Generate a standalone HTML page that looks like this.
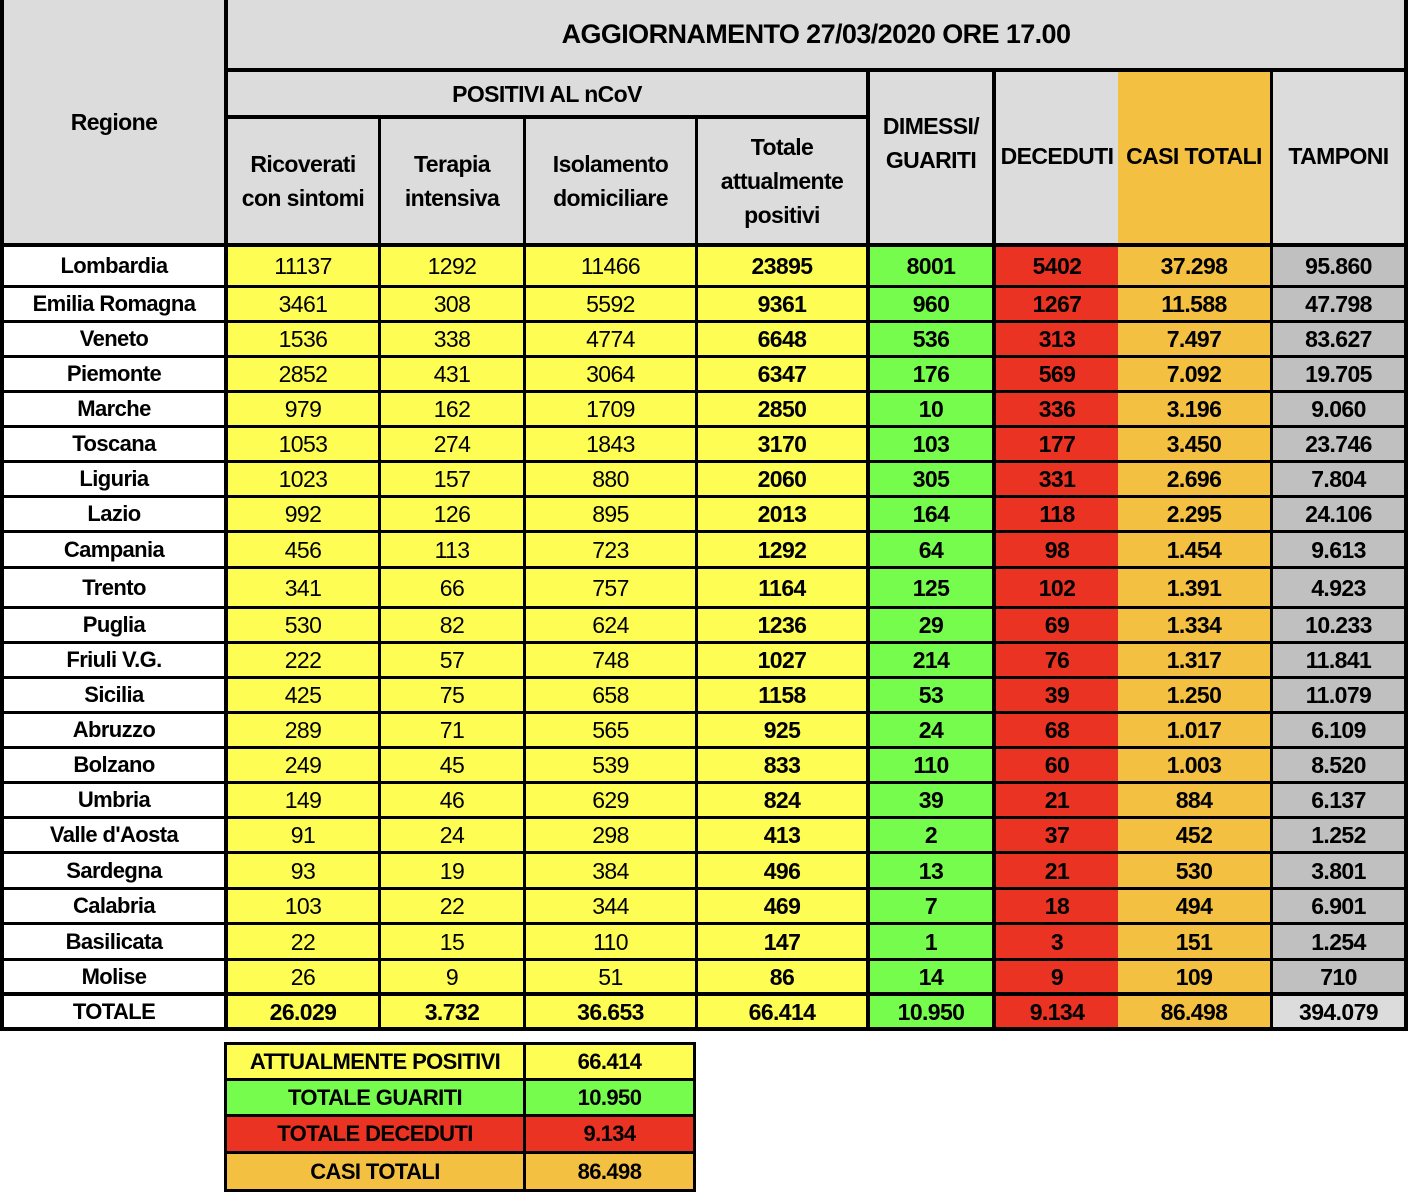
<!DOCTYPE html>
<html><head><meta charset="utf-8"><style>
body{margin:0;width:1408px;height:1198px;background:#fff;position:relative;overflow:hidden;font-family:"Liberation Sans",sans-serif;color:#000}
.bg{position:absolute;left:0;top:0;width:1408px;height:1031px;background:#000}
.c{position:absolute;display:flex;align-items:center;justify-content:center;text-align:center;font-size:23px;letter-spacing:-0.6px;line-height:34px}
.h{background:#dcdcdc;font-weight:bold;font-size:23px}
.r{position:absolute;left:0;width:1408px}
.r .c{top:0;bottom:0}
.c0{left:4px;width:220px;background:#fff;font-weight:bold;font-size:22px}
.c1{left:228px;width:150px;background:#fdfd54}
.c2{left:381px;width:142px;background:#fdfd54}
.c3{left:526px;width:169px;background:#fdfd54}
.c4{left:698px;width:168px;background:#fdfd54;font-weight:bold}
.c5{left:870px;width:122px;background:#76fc4c;font-weight:bold}
.c6{left:996px;width:122px;background:#ea3323;font-weight:bold}
.c7{left:1118px;width:152px;background:#f4c042;font-weight:bold}
.c8{left:1273px;width:131px;background:#c0c0c0;font-weight:bold}
.tot .c{font-weight:bold}
.b2{position:absolute;left:224px;top:1042px;width:472px;height:150px;background:#000}
.b2 .c{font-weight:bold;font-size:22px}
</style></head><body>
<div class="bg"></div>
<div class="c h" style="left:4px;top:0;width:220px;height:243px">Regione</div>
<div class="c h" style="left:228px;top:0;width:1176px;height:68px;font-size:27px">AGGIORNAMENTO 27/03/2020 ORE 17.00</div>
<div class="c h" style="left:228px;top:72px;width:638px;height:43px">POSITIVI AL nCoV</div>
<div class="c h" style="left:228px;top:119px;width:150px;height:124px">Ricoverati<br>con sintomi</div>
<div class="c h" style="left:381px;top:119px;width:142px;height:124px">Terapia<br>intensiva</div>
<div class="c h" style="left:526px;top:119px;width:169px;height:124px">Isolamento<br>domiciliare</div>
<div class="c h" style="left:698px;top:119px;width:168px;height:124px">Totale<br>attualmente<br>positivi</div>
<div class="c h" style="left:870px;top:72px;width:122px;height:171px;padding-bottom:30px;box-sizing:border-box">DIMESSI/<br>GUARITI</div>
<div class="c h" style="left:996px;top:72px;width:122px;height:171px;padding-bottom:3px;box-sizing:border-box">DECEDUTI</div>
<div class="c h" style="left:1118px;top:72px;width:152px;height:171px;background:#f4c042;padding-bottom:3px;box-sizing:border-box">CASI TOTALI</div>
<div class="c h" style="left:1273px;top:72px;width:131px;height:171px;padding-bottom:3px;box-sizing:border-box">TAMPONI</div>

<div class="r" style="top:247px;height:38px"><div class="c c0">Lombardia</div><div class="c c1">11137</div><div class="c c2">1292</div><div class="c c3">11466</div><div class="c c4">23895</div><div class="c c5">8001</div><div class="c c6">5402</div><div class="c c7">37.298</div><div class="c c8">95.860</div></div>
<div class="r" style="top:288px;height:32px"><div class="c c0">Emilia Romagna</div><div class="c c1">3461</div><div class="c c2">308</div><div class="c c3">5592</div><div class="c c4">9361</div><div class="c c5">960</div><div class="c c6">1267</div><div class="c c7">11.588</div><div class="c c8">47.798</div></div>
<div class="r" style="top:323px;height:32px"><div class="c c0">Veneto</div><div class="c c1">1536</div><div class="c c2">338</div><div class="c c3">4774</div><div class="c c4">6648</div><div class="c c5">536</div><div class="c c6">313</div><div class="c c7">7.497</div><div class="c c8">83.627</div></div>
<div class="r" style="top:358px;height:32px"><div class="c c0">Piemonte</div><div class="c c1">2852</div><div class="c c2">431</div><div class="c c3">3064</div><div class="c c4">6347</div><div class="c c5">176</div><div class="c c6">569</div><div class="c c7">7.092</div><div class="c c8">19.705</div></div>
<div class="r" style="top:393px;height:32px"><div class="c c0">Marche</div><div class="c c1">979</div><div class="c c2">162</div><div class="c c3">1709</div><div class="c c4">2850</div><div class="c c5">10</div><div class="c c6">336</div><div class="c c7">3.196</div><div class="c c8">9.060</div></div>
<div class="r" style="top:428px;height:32px"><div class="c c0">Toscana</div><div class="c c1">1053</div><div class="c c2">274</div><div class="c c3">1843</div><div class="c c4">3170</div><div class="c c5">103</div><div class="c c6">177</div><div class="c c7">3.450</div><div class="c c8">23.746</div></div>
<div class="r" style="top:463px;height:32px"><div class="c c0">Liguria</div><div class="c c1">1023</div><div class="c c2">157</div><div class="c c3">880</div><div class="c c4">2060</div><div class="c c5">305</div><div class="c c6">331</div><div class="c c7">2.696</div><div class="c c8">7.804</div></div>
<div class="r" style="top:498px;height:32px"><div class="c c0">Lazio</div><div class="c c1">992</div><div class="c c2">126</div><div class="c c3">895</div><div class="c c4">2013</div><div class="c c5">164</div><div class="c c6">118</div><div class="c c7">2.295</div><div class="c c8">24.106</div></div>
<div class="r" style="top:533px;height:33px"><div class="c c0">Campania</div><div class="c c1">456</div><div class="c c2">113</div><div class="c c3">723</div><div class="c c4">1292</div><div class="c c5">64</div><div class="c c6">98</div><div class="c c7">1.454</div><div class="c c8">9.613</div></div>
<div class="r" style="top:569px;height:37px"><div class="c c0">Trento</div><div class="c c1">341</div><div class="c c2">66</div><div class="c c3">757</div><div class="c c4">1164</div><div class="c c5">125</div><div class="c c6">102</div><div class="c c7">1.391</div><div class="c c8">4.923</div></div>
<div class="r" style="top:609px;height:32px"><div class="c c0">Puglia</div><div class="c c1">530</div><div class="c c2">82</div><div class="c c3">624</div><div class="c c4">1236</div><div class="c c5">29</div><div class="c c6">69</div><div class="c c7">1.334</div><div class="c c8">10.233</div></div>
<div class="r" style="top:644px;height:32px"><div class="c c0">Friuli V.G.</div><div class="c c1">222</div><div class="c c2">57</div><div class="c c3">748</div><div class="c c4">1027</div><div class="c c5">214</div><div class="c c6">76</div><div class="c c7">1.317</div><div class="c c8">11.841</div></div>
<div class="r" style="top:679px;height:32px"><div class="c c0">Sicilia</div><div class="c c1">425</div><div class="c c2">75</div><div class="c c3">658</div><div class="c c4">1158</div><div class="c c5">53</div><div class="c c6">39</div><div class="c c7">1.250</div><div class="c c8">11.079</div></div>
<div class="r" style="top:714px;height:32px"><div class="c c0">Abruzzo</div><div class="c c1">289</div><div class="c c2">71</div><div class="c c3">565</div><div class="c c4">925</div><div class="c c5">24</div><div class="c c6">68</div><div class="c c7">1.017</div><div class="c c8">6.109</div></div>
<div class="r" style="top:749px;height:32px"><div class="c c0">Bolzano</div><div class="c c1">249</div><div class="c c2">45</div><div class="c c3">539</div><div class="c c4">833</div><div class="c c5">110</div><div class="c c6">60</div><div class="c c7">1.003</div><div class="c c8">8.520</div></div>
<div class="r" style="top:784px;height:32px"><div class="c c0">Umbria</div><div class="c c1">149</div><div class="c c2">46</div><div class="c c3">629</div><div class="c c4">824</div><div class="c c5">39</div><div class="c c6">21</div><div class="c c7">884</div><div class="c c8">6.137</div></div>
<div class="r" style="top:819px;height:32px"><div class="c c0">Valle d'Aosta</div><div class="c c1">91</div><div class="c c2">24</div><div class="c c3">298</div><div class="c c4">413</div><div class="c c5">2</div><div class="c c6">37</div><div class="c c7">452</div><div class="c c8">1.252</div></div>
<div class="r" style="top:854px;height:33px"><div class="c c0">Sardegna</div><div class="c c1">93</div><div class="c c2">19</div><div class="c c3">384</div><div class="c c4">496</div><div class="c c5">13</div><div class="c c6">21</div><div class="c c7">530</div><div class="c c8">3.801</div></div>
<div class="r" style="top:890px;height:32px"><div class="c c0">Calabria</div><div class="c c1">103</div><div class="c c2">22</div><div class="c c3">344</div><div class="c c4">469</div><div class="c c5">7</div><div class="c c6">18</div><div class="c c7">494</div><div class="c c8">6.901</div></div>
<div class="r" style="top:925px;height:33px"><div class="c c0">Basilicata</div><div class="c c1">22</div><div class="c c2">15</div><div class="c c3">110</div><div class="c c4">147</div><div class="c c5">1</div><div class="c c6">3</div><div class="c c7">151</div><div class="c c8">1.254</div></div>
<div class="r" style="top:961px;height:31px"><div class="c c0">Molise</div><div class="c c1">26</div><div class="c c2">9</div><div class="c c3">51</div><div class="c c4">86</div><div class="c c5">14</div><div class="c c6">9</div><div class="c c7">109</div><div class="c c8">710</div></div>
<div class="r tot" style="top:996px;height:31px"><div class="c c0">TOTALE</div><div class="c c1">26.029</div><div class="c c2">3.732</div><div class="c c3">36.653</div><div class="c c4">66.414</div><div class="c c5">10.950</div><div class="c c6">9.134</div><div class="c c7">86.498</div><div class="c c8" style="background:#dcdcdc">394.079</div></div>

<div class="b2">
<div class="c" style="left:3px;top:3px;width:296px;height:33px;background:#fdfd54">ATTUALMENTE POSITIVI</div>
<div class="c" style="left:302px;top:3px;width:167px;height:33px;background:#fdfd54">66.414</div>
<div class="c" style="left:3px;top:39px;width:296px;height:33px;background:#76fc4c">TOTALE GUARITI</div>
<div class="c" style="left:302px;top:39px;width:167px;height:33px;background:#76fc4c">10.950</div>
<div class="c" style="left:3px;top:75px;width:296px;height:34px;background:#ea3323">TOTALE DECEDUTI</div>
<div class="c" style="left:302px;top:75px;width:167px;height:34px;background:#ea3323">9.134</div>
<div class="c" style="left:3px;top:112px;width:296px;height:35px;background:#f4c042">CASI TOTALI</div>
<div class="c" style="left:302px;top:112px;width:167px;height:35px;background:#f4c042">86.498</div>
</div>
</body></html>
